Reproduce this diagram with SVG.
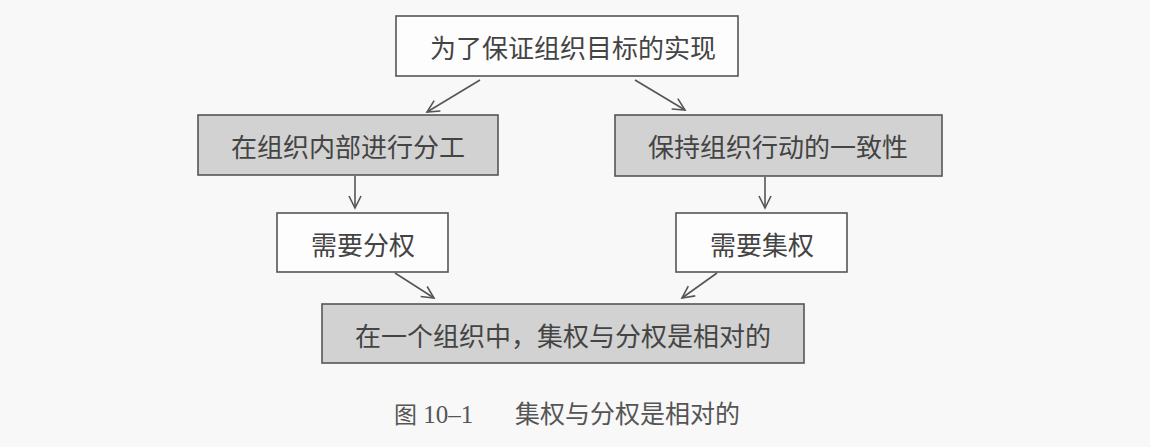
<svg xmlns="http://www.w3.org/2000/svg" width="1150" height="447" viewBox="0 0 1150 447">
<style>
.box{fill:#fdfdfd;stroke:#555;stroke-width:1.6}
.gray{fill:#d2d2d2;stroke:#555;stroke-width:1.6}
.t{font-family:"Noto Sans CJK SC","Liberation Sans",sans-serif;fill:#444;text-anchor:middle;dominant-baseline:central;font-size:26px}
.c{stroke:#555;stroke-width:1.6;fill:none;marker-end:url(#ah)}
.cap{font-family:"Liberation Serif","Noto Sans CJK SC",serif;fill:#555;font-size:25px}
</style>
<defs>
<marker id="ah" markerWidth="16" markerHeight="16" refX="14" refY="8" orient="auto" markerUnits="userSpaceOnUse">
<polyline points="2,2 14,8 2,14" fill="none" stroke="#555" stroke-width="1.6"/>
</marker>
</defs>
<rect width="1150" height="447" fill="#f8f8f8"/>
<g id="n1"><rect class="box" x="396" y="16" width="342" height="60"/><text class="t" x="573" y="46">为了保证组织目标的实现</text></g>
<g id="n2"><rect class="gray" x="198" y="115" width="300" height="60"/><text class="t" x="348" y="145">在组织内部进行分工</text></g>
<g id="n3"><rect class="gray" x="615" y="115" width="327" height="61"/><text class="t" x="778" y="145">保持组织行动的一致性</text></g>
<g id="n4"><rect class="box" x="277" y="213" width="171" height="59"/><text class="t" x="363" y="243">需要分权</text></g>
<g id="n5"><rect class="box" x="676" y="213" width="171" height="59"/><text class="t" x="762" y="243">需要集权</text></g>
<g id="n6"><rect class="gray" x="322" y="304" width="482" height="59"/><text class="t" x="563" y="334">在一个组织中，集权与分权是相对的</text></g>
<g id="connectors">
<line class="c" x1="480" y1="80" x2="427" y2="112"/>
<line class="c" x1="635" y1="80" x2="685" y2="110"/>
<line class="c" x1="355" y1="176" x2="355" y2="208"/>
<line class="c" x1="765" y1="177" x2="765" y2="208"/>
<line class="c" x1="395" y1="273" x2="434" y2="298"/>
<line class="c" x1="717" y1="273" x2="682" y2="298"/>
</g>
<text class="cap" x="394" y="423"><tspan font-size="23">图</tspan> 10–1<tspan x="515">集权与分权是相对的</tspan></text>
</svg>
